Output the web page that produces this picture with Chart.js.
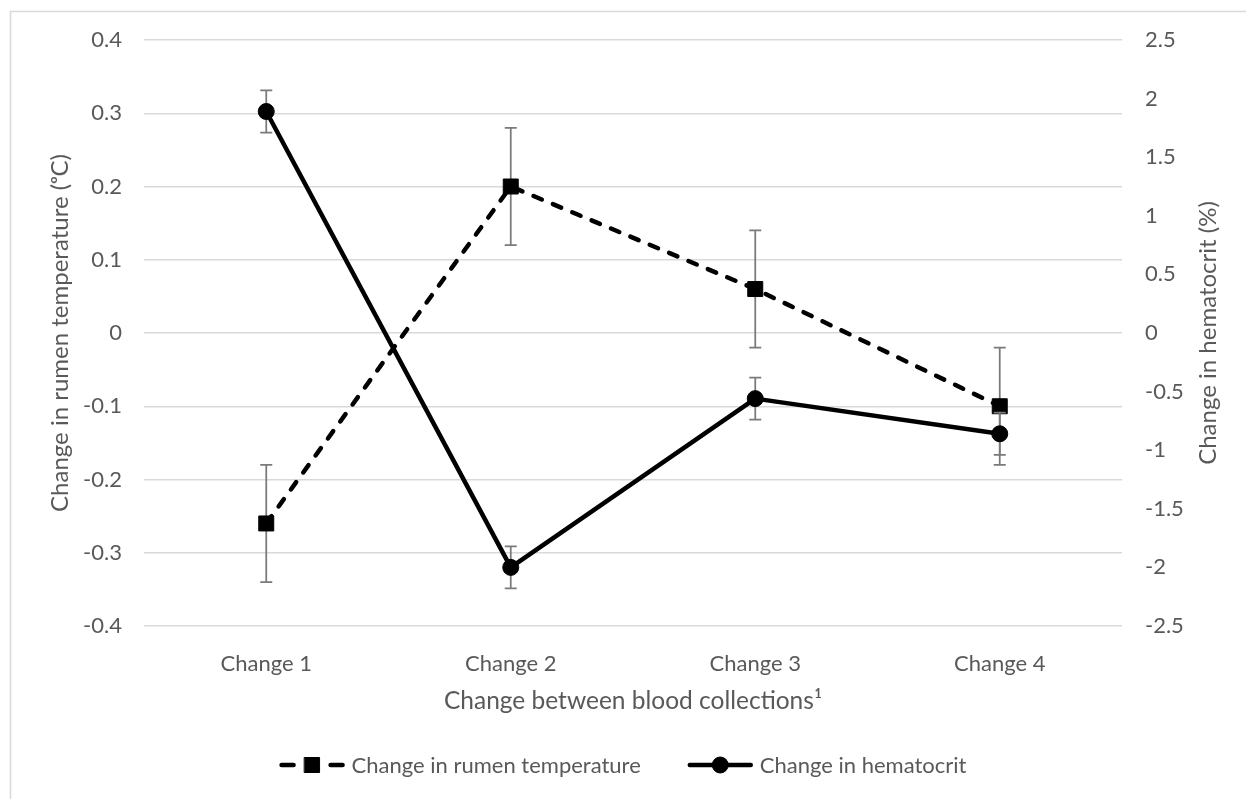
<!DOCTYPE html>
<html>
<head>
<meta charset="utf-8">
<script src="https://cdn.jsdelivr.net/npm/chart.js@4.4.1/dist/chart.umd.min.js"></script>
<style>
  html, body { margin: 0; padding: 0; background: #ffffff; }
  canvas { display: block; }
</style>
</head>
<body>
<canvas id="chart" width="1246" height="799"></canvas>
<script>
// Categories on the x axis
const categories = ['Change 1', 'Change 2', 'Change 3', 'Change 4'];

// Change in rumen temperature (°C), left axis, with ± error
const rumenTemp = [-0.26, 0.2, 0.06, -0.1];
const rumenTempErr = [0.08, 0.08, 0.08, 0.08];

// Change in hematocrit (%), right axis, with ± error
const hematocrit = [1.89, -2.0, -0.56, -0.86];
const hematocritErr = [0.18, 0.18, 0.18, 0.18];

// Tick values for both value axes
const leftTicks = [-0.4, -0.3, -0.2, -0.1, 0, 0.1, 0.2, 0.3, 0.4];
const rightTicks = [-2.5, -2, -1.5, -1, -0.5, 0, 0.5, 1, 1.5, 2, 2.5];

// Axis titles
const xTitle = 'Change between blood collections¹';
const leftTitle = 'Change in rumen temperature (ᵒC)';
const rightTitle = 'Change in hematocrit (%)';

const FONT = 'Lato, "Open Sans", sans-serif';
const TEXT = '#595959';
const GRID = '#d9d9d9';

// Outer frame and white background
const framePlugin = {
  id: 'frame',
  beforeDraw(chart) {
    const ctx = chart.ctx;
    ctx.save();
    ctx.fillStyle = '#ffffff';
    ctx.fillRect(0, 0, chart.width, chart.height);
    ctx.strokeStyle = GRID;
    ctx.lineWidth = 1.5;
    ctx.strokeRect(10.5, 11.5, chart.width + 20, chart.height + 20);
    ctx.restore();
  }
};

// Right-hand axis title, reading bottom to top like the left one
const rightTitlePlugin = {
  id: 'rightTitle',
  afterDraw(chart) {
    const ctx = chart.ctx;
    const area = chart.chartArea;
    ctx.save();
    ctx.translate(chart.width - 38, (area.top + area.bottom) / 2);
    ctx.rotate(-Math.PI / 2);
    ctx.font = '24px ' + FONT;
    ctx.fillStyle = TEXT;
    ctx.textAlign = 'center';
    ctx.textBaseline = 'middle';
    ctx.fillText(rightTitle, 0, 0);
    ctx.restore();
  }
};

// Vertical error bars, drawn just before each dataset's line and markers
const errorBarPlugin = {
  id: 'errorBars',
  beforeDatasetDraw(chart, args) {
    const ds = chart.data.datasets[args.index];
    if (!ds.errors) return;
    const meta = args.meta;
    const yScale = chart.scales[ds.yAxisID];
    const ctx = chart.ctx;
    ctx.save();
    ctx.strokeStyle = '#7a7a7a';
    ctx.lineWidth = 1.75;
    ctx.setLineDash([]);
    const cap = 6;
    meta.data.forEach((pt, i) => {
      const v = ds.data[i];
      const e = ds.errors[i];
      const x = pt.x;
      const yTop = yScale.getPixelForValue(v + e);
      const yBot = yScale.getPixelForValue(v - e);
      ctx.beginPath();
      ctx.moveTo(x, yTop); ctx.lineTo(x, yBot);
      ctx.moveTo(x - cap, yTop); ctx.lineTo(x + cap, yTop);
      ctx.moveTo(x - cap, yBot); ctx.lineTo(x + cap, yBot);
      ctx.stroke();
    });
    ctx.restore();
  }
};

// Legend with line + marker samples, centred under the plot
const legendPlugin = {
  id: 'lineLegend',
  afterDraw(chart) {
    const ctx = chart.ctx;
    const y = 765;
    const symW = 65, textGap = 7, itemGap = 47;
    ctx.save();
    ctx.font = '22px ' + FONT;
    const items = chart.data.datasets.map(ds => ({ ds, w: ctx.measureText(ds.label).width }));
    const total = items.reduce((s, it) => s + symW + textGap + it.w, 0) + itemGap * (items.length - 1);
    let x = (chart.width - total) / 2;
    items.forEach(({ ds, w }) => {
      ctx.strokeStyle = ds.borderColor;
      ctx.lineWidth = ds.borderWidth;
      ctx.lineCap = 'round';
      ctx.setLineDash([]);
      ctx.beginPath();
      if (ds.borderDash && ds.borderDash.length) {
        ctx.moveTo(x + 2, y); ctx.lineTo(x + 14, y);
        ctx.moveTo(x + symW - 14, y); ctx.lineTo(x + symW - 2, y);
      } else {
        ctx.moveTo(x + 2, y); ctx.lineTo(x + symW - 2, y);
      }
      ctx.stroke();
      ctx.fillStyle = ds.pointBackgroundColor;
      ctx.strokeStyle = ds.pointBorderColor;
      ctx.lineWidth = 1;
      Chart.helpers.drawPoint(ctx, {
        pointStyle: ds.pointStyle, radius: ds.pointRadius, rotation: 0, borderWidth: 1
      }, x + symW / 2, y);
      ctx.fillStyle = TEXT;
      ctx.textBaseline = 'middle';
      ctx.textAlign = 'left';
      ctx.fillText(ds.label, x + symW + textGap, y + 1);
      x += symW + textGap + w + itemGap;
    });
    ctx.restore();
  }
};

new Chart(document.getElementById('chart'), {
  type: 'line',
  data: {
    labels: categories,
    datasets: [
      {
        label: 'Change in rumen temperature',
        data: rumenTemp,
        errors: rumenTempErr,
        yAxisID: 'yTemp',
        borderColor: '#000000',
        backgroundColor: '#000000',
        borderWidth: 4.5,
        borderDash: [9, 12],
        borderCapStyle: 'round',
        pointStyle: 'rect',
        pointRadius: 10.6,
        pointBackgroundColor: '#000000',
        pointBorderColor: '#000000',
        pointBorderWidth: 1,
        tension: 0,
        order: 2
      },
      {
        label: 'Change in hematocrit',
        data: hematocrit,
        errors: hematocritErr,
        yAxisID: 'yHct',
        borderColor: '#000000',
        backgroundColor: '#000000',
        borderWidth: 4.5,
        borderCapStyle: 'round',
        borderJoinStyle: 'round',
        pointStyle: 'circle',
        pointRadius: 8,
        pointBackgroundColor: '#000000',
        pointBorderColor: '#000000',
        pointBorderWidth: 1,
        tension: 0,
        order: 1
      }
    ]
  },
  options: {
    responsive: false,
    animation: false,
    events: [],
    layout: { padding: { top: 40, bottom: 83, left: 0, right: 0 } },
    plugins: {
      legend: { display: false },
      tooltip: { enabled: false }
    },
    scales: {
      x: {
        type: 'category',
        offset: true,
        grid: { display: false, drawTicks: false },
        border: { display: false },
        ticks: { color: TEXT, font: { family: FONT, size: 22 }, padding: 25 },
        title: {
          display: true,
          text: xTitle,
          color: TEXT,
          font: { family: FONT, size: 24.5 },
          padding: { top: 4, bottom: 0 }
        },
        afterFit(s) { s.height = 90; }
      },
      yTemp: {
        position: 'left',
        min: -0.4,
        max: 0.4,
        afterBuildTicks(s) { s.ticks = leftTicks.map(v => ({ value: v })); },
        grid: { color: GRID, lineWidth: 1.5, drawTicks: false },
        border: { display: false },
        ticks: {
          color: TEXT, font: { family: FONT, size: 22 }, padding: 22,
          callback: v => String(v)
        },
        title: {
          display: true,
          text: leftTitle,
          color: TEXT,
          font: { family: FONT, size: 24 },
          padding: { top: 46, bottom: 0 }
        },
        afterFit(s) { s.width = 144; }
      },
      yHct: {
        position: 'right',
        min: -2.5,
        max: 2.5,
        afterBuildTicks(s) { s.ticks = rightTicks.map(v => ({ value: v })); },
        grid: { display: false, drawTicks: false },
        border: { display: false },
        ticks: {
          color: TEXT, font: { family: FONT, size: 22 }, padding: 23,
          callback: v => String(v)
        },
        title: { display: false },
        afterFit(s) { s.width = 124; }
      }
    }
  },
  plugins: [framePlugin, errorBarPlugin, legendPlugin, rightTitlePlugin]
});
</script>
</body>
</html>
